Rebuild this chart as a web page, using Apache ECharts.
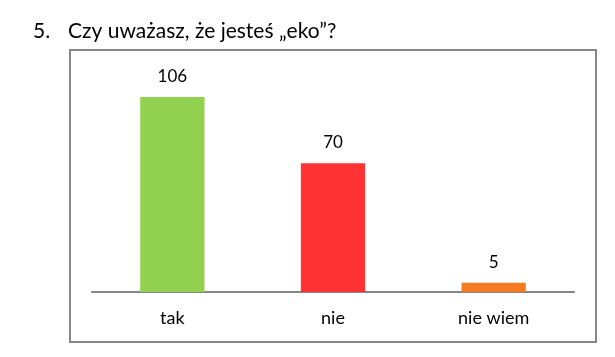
<!DOCTYPE html>
<html><head><meta charset="utf-8">
<script src="https://cdn.jsdelivr.net/npm/echarts@6/dist/echarts.min.js"></script>
<style>html,body{margin:0;padding:0;background:#fff}#c{width:615px;height:357px}</style>
</head><body><div id="c"></div>
<script>
const categories = ['tak', 'nie', 'nie wiem'];
const values = [106, 70, 5];
const barColors = ['#92D050', '#FF3333', '#F57A22'];
const questionNumber = '5.';
const questionText = 'Czy uważasz, że jesteś „eko”?';

const FONT = 'Lato, "Open Sans", sans-serif';
const chart = echarts.init(document.getElementById('c'), null, {renderer: 'canvas'});
chart.setOption({
  animation: false,
  backgroundColor: '#fff',
  graphic: [
    {type: 'rect', shape: {x: 70, y: 50, width: 526, height: 292},
     style: {fill: 'none', stroke: '#878787', lineWidth: 2}, z: 0},
    {type: 'text', left: 33, top: 21, style: {text: questionNumber, font: '21px ' + FONT, fill: '#000'}},
    {type: 'text', left: 68, top: 21, style: {text: questionText, font: '21px ' + FONT, fill: '#000'}}
  ],
  grid: {left: 92, right: 41, top: 71.25, bottom: 65},
  xAxis: {
    type: 'category', data: categories,
    axisLine: {lineStyle: {color: '#868686', width: 2}},
    axisTick: {show: false},
    axisLabel: {color: '#000', fontSize: 18, fontFamily: FONT, margin: 17}
  },
  yAxis: {type: 'value', min: 0, max: 120, show: false, splitLine: {show: false}},
  series: [{
    type: 'bar', barWidth: '40%',
    data: values.map((v, i) => ({value: v, itemStyle: {color: barColors[i]}})),
    label: {show: true, position: 'top', distance: 12, color: '#000', fontSize: 17, fontFamily: FONT}
  }]
});
</script></body></html>
